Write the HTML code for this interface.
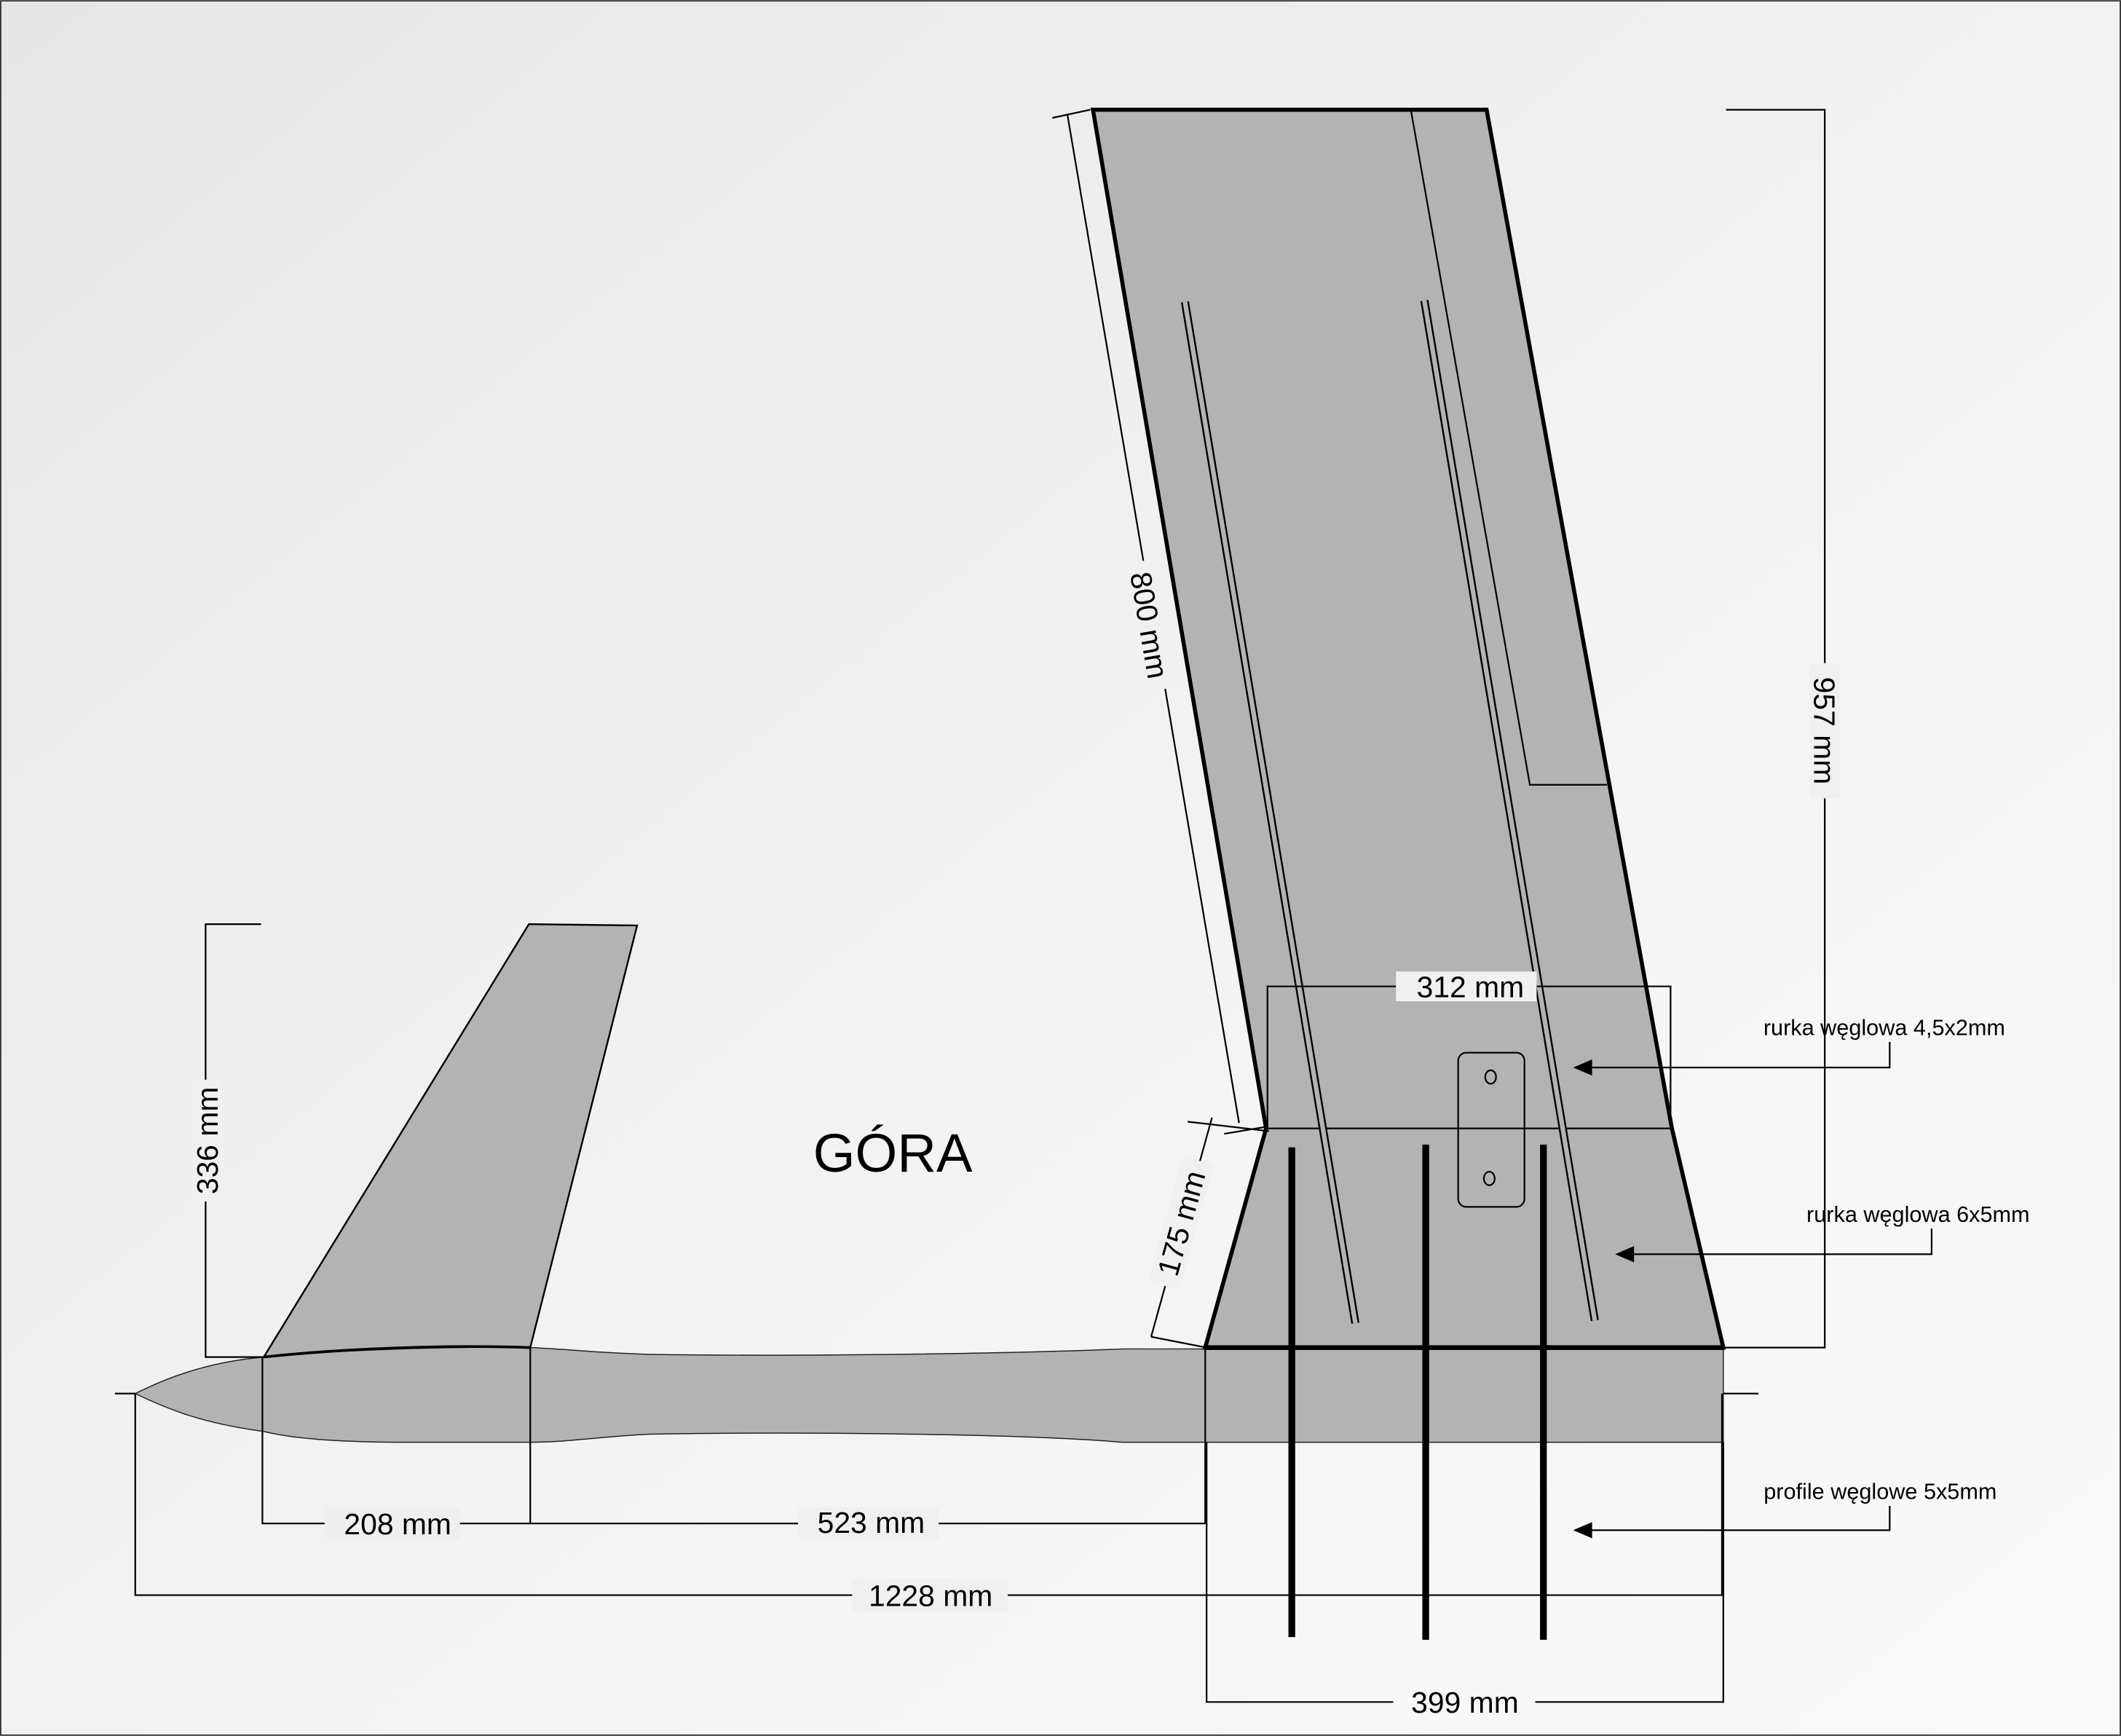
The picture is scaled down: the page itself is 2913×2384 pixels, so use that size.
<!DOCTYPE html>
<html><head><meta charset="utf-8"><style>
html,body{margin:0;padding:0}
svg{display:block}
text{font-family:"Liberation Sans",sans-serif;fill:#000}
</style></head><body>
<svg width="2913" height="2384" viewBox="0 0 1568 1283" xmlns="http://www.w3.org/2000/svg">
<defs>
<linearGradient id="bg" x1="0" y1="0" x2="1" y2="1">
<stop offset="0" stop-color="#e6e6e6"/><stop offset="0.5" stop-color="#f2f2f2"/><stop offset="1" stop-color="#fafafa"/>
</linearGradient>
</defs>
<rect x="0.5" y="0.5" width="1567" height="1282" fill="url(#bg)" stroke="#333" stroke-width="1"/>

<!-- fuselage -->
<path d="M100,1030 C130,1015 160,1006 195,1003 C260,997 340,995 392,996 C420,997 440,1000 480,1001 C600,1003 760,1000 830,997 L1274,997 L1274,1066 L830,1066 C760,1060 600,1058 480,1060 C440,1062 420,1066 392,1066 L300,1066 C250,1066 215,1063 195,1058 C150,1052 125,1042 100,1030 Z" fill="#b3b3b3" stroke="#222" stroke-width="0.8"/>
<!-- tail -->
<path d="M195,1003 L391,683 L471,684 L392,996 C340,994 260,996 195,1003 Z" fill="#b3b3b3" stroke="#000" stroke-width="1.3"/>
<path d="M195,1003 C260,996 340,994 392,996" fill="none" stroke="#000" stroke-width="2"/>

<!-- wing -->
<path d="M808,81 L1099,81 L1236,834 L1274,996 L891,996 L936,834 Z" fill="#b3b3b3" stroke="#000" stroke-width="3"/>
<line x1="936" y1="834" x2="1236" y2="834" stroke="#000" stroke-width="1.2"/>
<line x1="891" y1="996" x2="1274" y2="996" stroke="#000" stroke-width="3.5"/>
<polyline points="1043,81 1131,580 1188,580" fill="none" stroke="#000" stroke-width="1.2"/>
<!-- tubes -->
<line x1="876" y1="223" x2="1002" y2="978" stroke="#000" stroke-width="6"/>
<line x1="876" y1="223" x2="1002" y2="978" stroke="#b3b3b3" stroke-width="3.4"/>
<line x1="1053" y1="222" x2="1179" y2="976" stroke="#000" stroke-width="6"/>
<line x1="1053" y1="222" x2="1179" y2="976" stroke="#b3b3b3" stroke-width="3.4"/>
<!-- plate -->
<rect x="1078" y="778" width="49" height="114" rx="6" fill="none" stroke="#000" stroke-width="1.2"/>
<ellipse cx="1102" cy="796" rx="4" ry="5" fill="none" stroke="#000" stroke-width="1.2"/>
<ellipse cx="1101" cy="871" rx="4" ry="5" fill="none" stroke="#000" stroke-width="1.2"/>
<!-- bars -->
<line x1="955" y1="848" x2="955" y2="1210" stroke="#000" stroke-width="5"/>
<line x1="1054" y1="846" x2="1054" y2="1212" stroke="#000" stroke-width="5"/>
<line x1="1141" y1="846" x2="1141" y2="1212" stroke="#000" stroke-width="5"/>

<g stroke="#000" stroke-width="1.2" fill="none">
<polyline points="193,683 152,683 152,1003 195,1003"/>
<polyline points="1276,81 1349,81 1349,996 1274,996"/>
<line x1="789" y1="84" x2="916" y2="830"/>
<line x1="778" y1="87" x2="806" y2="81"/>
<line x1="905" y1="838" x2="935" y2="833"/>
<line x1="851" y1="988" x2="896" y2="826"/>
<line x1="878" y1="829" x2="938" y2="836"/>
<line x1="851" y1="988" x2="892" y2="996"/>
<polyline points="937,834 937,729 1235,729 1235,834"/>
<polyline points="194,1003 194,1126 891,1126"/>
<line x1="392" y1="996" x2="392" y2="1126"/>
<line x1="891" y1="996" x2="891" y2="1126"/>
<polyline points="100,1030 100,1179 1273,1179 1273,1030"/>
<line x1="85" y1="1030" x2="100" y2="1030"/>
<line x1="1274" y1="1030" x2="1300" y2="1030"/>
<polyline points="892,1066 892,1258 1274,1258 1274,1066"/>
<polyline points="1397,770 1397,789 1175,789"/>
<polyline points="1428,908 1428,927 1206,927"/>
<polyline points="1397,1113 1397,1131 1175,1131"/>
</g>
<g fill="#000">
<polygon points="1163,789 1177,783 1177,795"/>
<polygon points="1194,927 1208,921 1208,933"/>
<polygon points="1163,1131 1177,1125 1177,1137"/>
</g>

<g fill="#f0f0f0">
<rect x="142" y="798" width="22" height="90"/>
<rect x="1338" y="490" width="22" height="100"/>
<rect x="1032" y="718" width="104" height="22"/>
<rect x="240" y="1114" width="100" height="24" fill="#efefef"/>
<rect x="590" y="1114" width="104" height="24"/>
<rect x="630" y="1167" width="115" height="24"/>
<rect x="1030" y="1246" width="105" height="24" fill="#f8f8f8"/>
<rect x="-48" y="-12" width="96" height="24" transform="translate(852,462) rotate(80.3)"/>
<rect x="-48" y="-12" width="96" height="24" transform="translate(873,904) rotate(-74.5)"/>
</g>
<g font-size="22">
<text x="0" y="8" transform="translate(153,843) rotate(-90)" text-anchor="middle">336 mm</text>
<text x="0" y="8" transform="translate(1349,540) rotate(90)" text-anchor="middle">957 mm</text>
<text x="0" y="8" transform="translate(850,462) rotate(80.3)" text-anchor="middle">800 mm</text>
<text x="0" y="8" transform="translate(873,904) rotate(-74.5)" text-anchor="middle">175 mm</text>
<text x="1087" y="737" text-anchor="middle">312 mm</text>
<text x="294" y="1134" text-anchor="middle">208 mm</text>
<text x="644" y="1133" text-anchor="middle">523 mm</text>
<text x="688" y="1187" text-anchor="middle">1228 mm</text>
<text x="1083" y="1266" text-anchor="middle">399 mm</text>
</g>
<text x="660" y="866" font-size="40" text-anchor="middle">GÓRA</text>
<g font-size="16.5">
<text x="1393" y="765" text-anchor="middle">rurka węglowa 4,5x2mm</text>
<text x="1418" y="903" text-anchor="middle">rurka węglowa 6x5mm</text>
<text x="1390" y="1108" text-anchor="middle">profile węglowe 5x5mm</text>
</g>
</svg>
</body></html>
